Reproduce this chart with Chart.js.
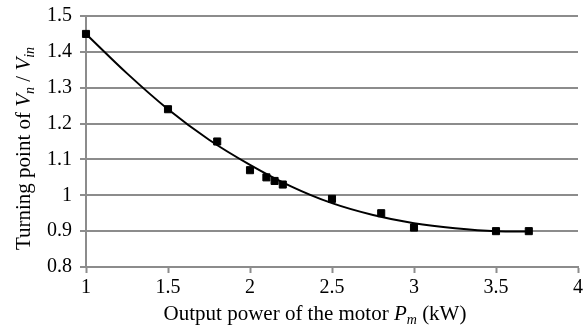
<!DOCTYPE html>
<html>
<head>
<meta charset="utf-8">
<script src="https://cdn.jsdelivr.net/npm/chart.js@4"></script>
<style>
  html, body { margin: 0; padding: 0; background: #fff; }
  #wrap { width: 584px; height: 328px; position: relative; }
</style>
</head>
<body>
<div id="wrap"><canvas id="turningChart"></canvas></div>
<script>
// measured points
const powerKW = [1, 1.5, 1.8, 2, 2.1, 2.15, 2.2, 2.5, 2.8, 3, 3.5, 3.7];
const turningPoint = [1.45, 1.24, 1.15, 1.07, 1.05, 1.04, 1.03, 0.99, 0.95, 0.91, 0.90, 0.90];

// trend curve
const trendX = [1, 1.25, 1.5, 1.75, 2, 2.25, 2.5, 2.75, 3, 3.25, 3.5, 3.7];
const trendY = [1.45, 1.34, 1.24, 1.155, 1.085, 1.025, 0.978, 0.945, 0.922, 0.908, 0.900, 0.899];

const xRange = [1, 4];
const yRange = [0.8, 1.5];

const xTitleRuns = [
  { text: 'Output power of the motor ' },
  { text: 'P', italic: true },
  { text: 'm', italic: true, sub: true },
  { text: ' (kW)' }
];
const yTitleRuns = [
  { text: 'Turning point of ' },
  { text: 'V', italic: true },
  { text: 'n', italic: true, sub: true },
  { text: ' / ' },
  { text: 'V', italic: true },
  { text: 'in', italic: true, sub: true }
];

const FONT = '"Liberation Serif", "Times New Roman", serif';
const GRID = '#8c8c8c';

function runFont(run, size) {
  const s = run.sub ? Math.round(size * 0.66) : size;
  return (run.italic ? 'italic ' : '') + s + 'px ' + FONT;
}

function drawRuns(ctx, runs, cx, baseY, size) {
  let total = 0;
  runs.forEach(r => { ctx.font = runFont(r, size); total += ctx.measureText(r.text).width; });
  let x = cx - total / 2;
  ctx.textBaseline = 'alphabetic';
  ctx.textAlign = 'left';
  runs.forEach(r => {
    ctx.font = runFont(r, size);
    ctx.fillText(r.text, x, baseY + (r.sub ? size * 0.2 : 0));
    x += ctx.measureText(r.text).width;
  });
}

// strip trailing zeros: 1.0 -> 1
const plainNum = v => String(Number(v.toFixed(2)));

const axisTitles = {
  id: 'axisTitles',
  afterDraw(chart) {
    const ctx = chart.ctx;
    const area = chart.chartArea;
    ctx.save();
    ctx.fillStyle = '#000';
    drawRuns(ctx, xTitleRuns, (area.left + area.right) / 2 - 17, area.bottom + 53, 21);
    ctx.translate(30, (area.top + area.bottom) / 2 + 7);
    ctx.rotate(-Math.PI / 2);
    drawRuns(ctx, yTitleRuns, 0, 0, 21);
    ctx.restore();
  }
};

const ctx = document.getElementById('turningChart').getContext('2d');
new Chart(ctx, {
  type: 'scatter',
  data: {
    datasets: [
      {
        data: powerKW.map((x, i) => ({ x: x, y: turningPoint[i] })),
        pointStyle: 'rect',
        pointRadius: 5,
        pointBorderWidth: 1,
        backgroundColor: '#000',
        borderColor: '#000',
        clip: false
      },
      {
        data: trendX.map((x, i) => ({ x: x, y: trendY[i] })),
        showLine: true,
        borderColor: '#000',
        borderWidth: 2,
        pointRadius: 0,
        cubicInterpolationMode: 'monotone',
        clip: false
      }
    ]
  },
  options: {
    responsive: true,
    maintainAspectRatio: false,
    animation: false,
    layout: { padding: { top: 16, right: 4, left: 0, bottom: 0 } },
    plugins: {
      legend: { display: false },
      tooltip: { enabled: false }
    },
    scales: {
      x: {
        type: 'linear',
        min: xRange[0],
        max: xRange[1],
        afterFit(scale) {
          scale.height = 61;
          scale.paddingLeft = 0;
          scale.paddingRight = 0;
        },
        ticks: {
          stepSize: 0.5,
          padding: 3,
          color: '#000',
          font: { family: FONT, size: 20 },
          callback: plainNum
        },
        grid: {
          drawOnChartArea: false,
          drawTicks: true,
          tickLength: 6,
          tickWidth: 2,
          tickColor: GRID
        },
        border: { color: GRID, width: 2 }
      },
      y: {
        min: yRange[0],
        max: yRange[1],
        afterFit(scale) {
          scale.width = 86;
          scale.paddingTop = 0;
          scale.paddingBottom = 0;
        },
        ticks: {
          stepSize: 0.1,
          padding: 8,
          color: '#000',
          font: { family: FONT, size: 20 },
          callback: plainNum
        },
        grid: {
          color: GRID,
          lineWidth: 2,
          tickLength: 6
        },
        border: { color: GRID, width: 2 }
      }
    }
  },
  plugins: [axisTitles]
});
</script>
</body>
</html>
